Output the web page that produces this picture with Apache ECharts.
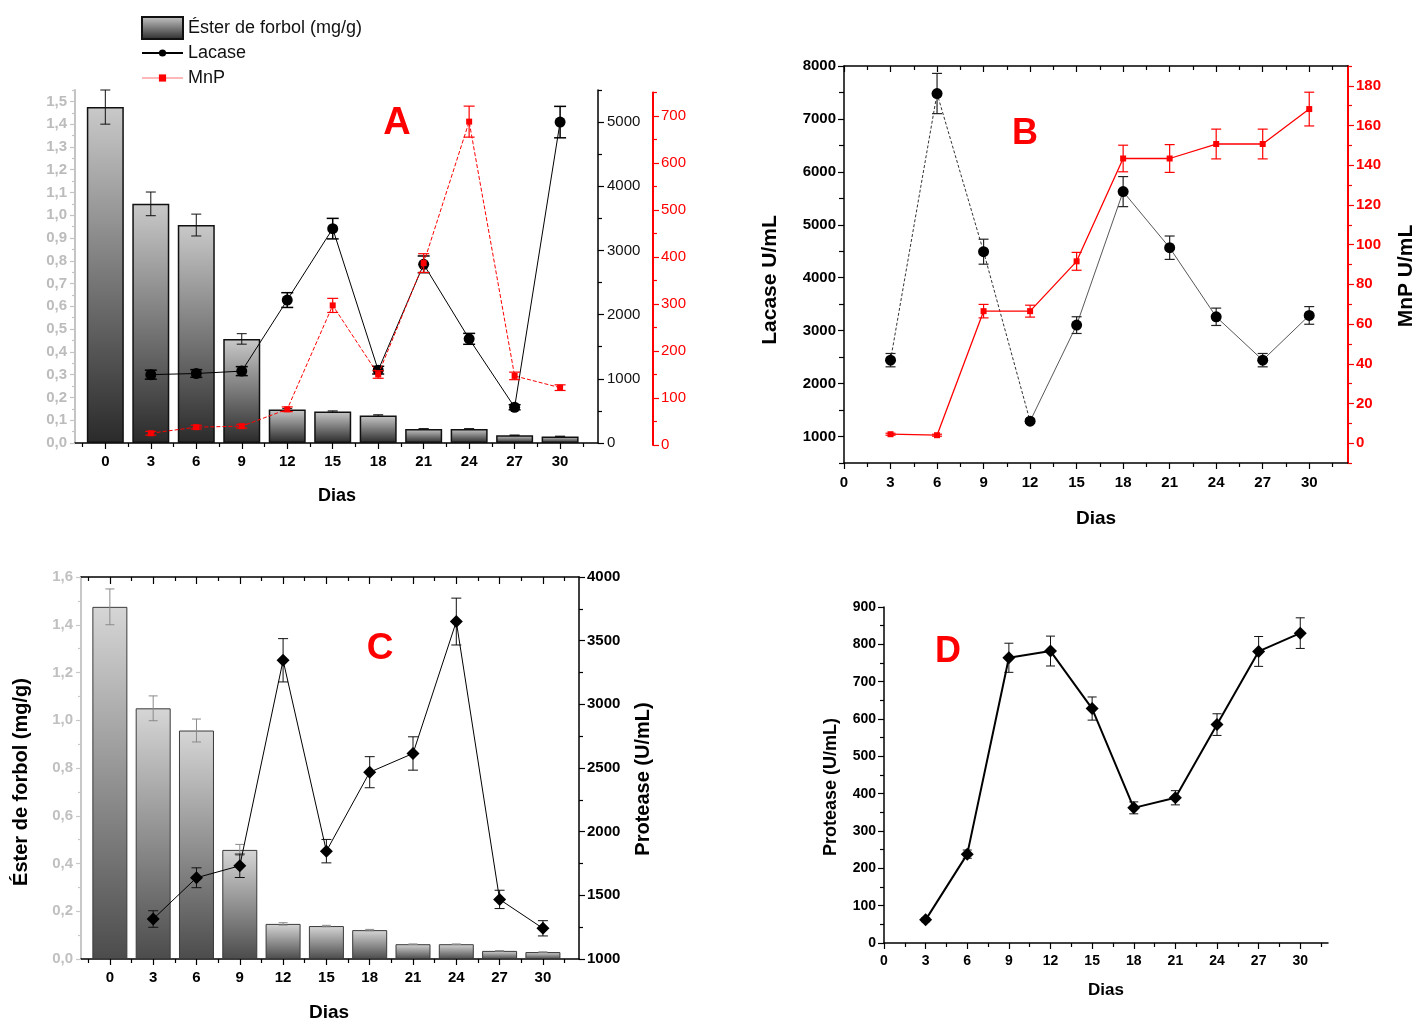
<!DOCTYPE html>
<html><head><meta charset="utf-8">
<script src="https://cdn.jsdelivr.net/npm/echarts@6/dist/echarts.min.js"></script>
<style>html,body{margin:0;padding:0;background:#fff}#c{width:1416px;height:1021px}</style>
</head><body><div id="c"></div>
<script>
// ---------------- data ----------------
const days = [0, 3, 6, 9, 12, 15, 18, 21, 24, 27, 30];
const enzDays = [3, 6, 9, 12, 15, 18, 21, 24, 27, 30];
const esterVal = [1.475, 1.05, 0.957, 0.457, 0.147, 0.138, 0.121, 0.062, 0.062, 0.034, 0.029];
const esterErr = [0.075, 0.052, 0.048, 0.023, 0.005, 0.003, 0.003, 0.001, 0.001, 0.001, 0.001];
const lacaseA = [1065, 1083, 1120, 2227, 3340, 1135, 2784, 1623, 557, 5000];
const lacaseAErr = [70, 60, 70, 115, 160, 60, 130, 85, 40, 245];
const mnpA = [25, 38, 40, 76, 297, 150, 387, 688, 147, 122];
const mnpAErr = [4, 4, 4, 5, 15, 8, 20, 33, 8, 6];
const lacaseB = [2443, 7480, 4492, 1289, 3105, 5627, 4567, 3262, 2443, 3288];
const lacaseBErr = [126, 380, 236, 40, 158, 284, 221, 164, 126, 167];
const mnpB = [4.5, 4, 66.5, 66.5, 91.6, 143.4, 143.4, 150.7, 150.7, 168.3];
const mnpBErr = [0.5, 0.5, 3.4, 3, 4.5, 6.7, 7, 7.5, 7.5, 8.5];
const proteaseC = [1314, 1638, 1732, 3346, 1847, 2467, 2614, 3650, 1468, 1241];
const proteaseCErr = [65, 78, 92, 170, 92, 122, 131, 184, 72, 60];
const proteaseD = [62, 238, 764, 782, 628, 362, 389, 585, 781, 830];
const proteaseDErr = [5, 11, 39, 40, 31, 16, 19, 29, 40, 41];

// ---------------- tick labels ----------------
const dayTicks = [0, 3, 6, 9, 12, 15, 18, 21, 24, 27, 30];
const esterTicksA = [0, 0.1, 0.2, 0.3, 0.4, 0.5, 0.6, 0.7, 0.8, 0.9, 1.0, 1.1, 1.2, 1.3, 1.4, 1.5];
const lacaseTicksA = [0, 1000, 2000, 3000, 4000, 5000];
const mnpTicksA = [0, 100, 200, 300, 400, 500, 600, 700];
const lacaseTicksB = [1000, 2000, 3000, 4000, 5000, 6000, 7000, 8000];
const mnpTicksB = [0, 20, 40, 60, 80, 100, 120, 140, 160, 180];
const esterTicksC = [0, 0.2, 0.4, 0.6, 0.8, 1.0, 1.2, 1.4, 1.6];
const proteaseTicksC = [1000, 1500, 2000, 2500, 3000, 3500, 4000];
const proteaseTicksD = [0, 100, 200, 300, 400, 500, 600, 700, 800, 900];

// ---------------- helpers ----------------
const FONT = '"Liberation Sans", Arial, sans-serif';
const RED = '#ff0000';
const comma = v => v.toFixed(1).replace('.', ',');
const plain = v => String(Math.round(v));

function minorsOf(t, lo, hi) {
  const step = t[1] - t[0];
  const cand = [t[0] - step / 2];
  for (let i = 0; i < t.length - 1; i++) cand.push((t[i] + t[i + 1]) / 2);
  cand.push(t[t.length - 1] + step / 2);
  return cand.filter(v => v >= lo - 1e-9 && v <= hi + 1e-9).map(v => +v.toFixed(6));
}

const xAxes = [], yAxes = [];
function addAxis(list, base, labels, o) {
  const idx = list.length;
  const tickColor = o.tickColor || o.lineColor;
  list.push(Object.assign({
    type: 'value', splitLine: { show: false },
    axisLine: { show: o.line !== false, onZero: false, lineStyle: { color: o.lineColor, width: o.lineWidth } },
    axisTick: { show: true, customValues: labels, length: o.majLen, inside: !!o.inside,
      lineStyle: { color: tickColor, width: o.tickWidth || 1.2 } },
    axisLabel: o.label ? Object.assign({ customValues: labels, fontFamily: FONT, formatter: plain }, o.label) : { show: false }
  }, base));
  const minors = minorsOf(labels, base.min, base.max);
  list.push(Object.assign({
    type: 'value', splitLine: { show: false },
    axisLine: { show: false, onZero: false },
    axisTick: { show: true, customValues: minors, length: o.minLen, inside: !!o.inside,
      lineStyle: { color: tickColor, width: o.tickWidth || 1.2 } },
    axisLabel: { show: false }
  }, base));
  return idx;
}

function errSeries(xi, yi, xs, vals, errs, color, cap, width, z) {
  return {
    type: 'custom', xAxisIndex: xi, yAxisIndex: yi, z: z, silent: true, clip: false,
    data: xs.map((x, i) => [x, vals[i] - errs[i], vals[i] + errs[i]]),
    encode: { x: 0, y: [1, 2] },
    renderItem(params, api) {
      const lo = api.coord([api.value(0), api.value(1)]);
      const hi = api.coord([api.value(0), api.value(2)]);
      const h = cap / 2;
      const st = { stroke: color, lineWidth: width };
      return { type: 'group', children: [
        { type: 'line', shape: { x1: lo[0], y1: lo[1], x2: hi[0], y2: hi[1] }, style: st },
        { type: 'line', shape: { x1: lo[0] - h, y1: lo[1], x2: lo[0] + h, y2: lo[1] }, style: st },
        { type: 'line', shape: { x1: hi[0] - h, y1: hi[1], x2: hi[0] + h, y2: hi[1] }, style: st }
      ] };
    }
  };
}
const pts = (xs, vs) => xs.map((x, i) => [x, vs[i]]);

// ---------------- grids ----------------
const grids = [
  { left: 75, top: 90, width: 523, height: 353 },      // 0 A
  { left: 75, top: 92.5, width: 523, height: 352.5 },  // 1 A (MnP)
  { left: 844, top: 66, width: 504, height: 397 },     // 2 B
  { left: 81, top: 577, width: 498, height: 382 },     // 3 C
  { left: 884, top: 607, width: 444, height: 336 }     // 4 D
];

const boldLbl = (size, color, margin) => ({ fontSize: size, fontWeight: 'bold', color: color, margin: margin });

// Panel A axes
const xA = addAxis(xAxes, { gridIndex: 0, min: -2, max: 32.5, position: 'bottom' }, dayTicks,
  { majLen: 6, minLen: 4, lineColor: '#000', lineWidth: 1.5, label: boldLbl(15, '#000', 11) });
const yAest = addAxis(yAxes, { gridIndex: 0, min: 0, max: 1.55, position: 'left' }, esterTicksA,
  { majLen: 5, minLen: 3, lineColor: '#c4c4c4', lineWidth: 2, label: Object.assign(boldLbl(15, '#bcbcbc', 8), { formatter: comma }) });
const yAlac = addAxis(yAxes, { gridIndex: 0, min: 0, max: 5500, position: 'right' }, lacaseTicksA,
  { majLen: 6, minLen: 4, lineColor: '#000', lineWidth: 1.5, label: { fontSize: 15, color: '#111', margin: 9 } });
const xAm = xAxes.length;
xAxes.push({ type: 'value', gridIndex: 1, min: -2, max: 32.5, show: false });
const yAmnp = addAxis(yAxes, { gridIndex: 1, min: 0, max: 750, position: 'right', offset: 55 }, mnpTicksA,
  { majLen: 6, minLen: 4, lineColor: RED, lineWidth: 2, label: { fontSize: 15, color: RED, margin: 8 } });

// Panel B axes
const xB = addAxis(xAxes, { gridIndex: 2, min: 0, max: 32.5, position: 'bottom' }, dayTicks,
  { majLen: 6, minLen: 4, lineColor: '#000', lineWidth: 1.5, label: boldLbl(15, '#000', 12) });
addAxis(xAxes, { gridIndex: 2, min: 0, max: 32.5, position: 'top' }, dayTicks,
  { majLen: 6, minLen: 4, inside: true, lineColor: '#000', lineWidth: 1.5 });
const yBl = addAxis(yAxes, { gridIndex: 2, min: 500, max: 8000, position: 'left' }, lacaseTicksB,
  { majLen: 6, minLen: 5, lineColor: '#000', lineWidth: 1.5, label: boldLbl(15, '#000', 8) });
const yBr = addAxis(yAxes, { gridIndex: 2, min: -10, max: 190, position: 'right' }, mnpTicksB,
  { majLen: 6, minLen: 4, lineColor: RED, lineWidth: 2, label: boldLbl(15, RED, 8) });

// Panel C axes
const xC = addAxis(xAxes, { gridIndex: 3, min: -2, max: 32.5, position: 'bottom' }, dayTicks,
  { majLen: 6, minLen: 4, lineColor: '#000', lineWidth: 1.5, label: boldLbl(15, '#000', 11) });
addAxis(xAxes, { gridIndex: 3, min: -2, max: 32.5, position: 'top' }, dayTicks,
  { majLen: 7, minLen: 4, inside: true, lineColor: '#000', lineWidth: 1.5 });
const yCl = addAxis(yAxes, { gridIndex: 3, min: 0, max: 1.6, position: 'left' }, esterTicksC,
  { majLen: 5, minLen: 3, lineColor: '#c8c8c8', lineWidth: 2, label: Object.assign(boldLbl(15, '#c0c0c0', 8), { formatter: comma }) });
const yCr = addAxis(yAxes, { gridIndex: 3, min: 1000, max: 4000, position: 'right' }, proteaseTicksC,
  { majLen: 6, minLen: 4, lineColor: '#000', lineWidth: 1.5, label: boldLbl(15, '#000', 8) });

// Panel D axes
const xD = addAxis(xAxes, { gridIndex: 4, min: 0, max: 32, position: 'bottom' }, dayTicks,
  { majLen: 6, minLen: 4, lineColor: '#000', lineWidth: 1.5, label: boldLbl(14, '#000', 11) });
const yD = addAxis(yAxes, { gridIndex: 4, min: 0, max: 900, position: 'left' }, proteaseTicksD,
  { majLen: 6, minLen: 4, lineColor: '#000', lineWidth: 1.5, label: boldLbl(14, '#000', 8) });

// ---------------- series ----------------
const gradA = { type: 'linear', x: 0, y: 0, x2: 0, y2: 1, colorStops: [{ offset: 0, color: '#c9c9c9' }, { offset: 1, color: '#2a2a2a' }] };
const gradC = { type: 'linear', x: 0, y: 0, x2: 0, y2: 1, colorStops: [{ offset: 0, color: '#d6d6d6' }, { offset: 1, color: '#4c4c4c' }] };

const series = [
  // A
  { name: 'Éster de forbol (mg/g)', type: 'bar', xAxisIndex: xA, yAxisIndex: yAest, barWidth: 37, z: 2,
    data: pts(days, esterVal), itemStyle: { color: gradA, borderColor: '#111', borderWidth: 1.5 } },
  errSeries(xA, yAest, days, esterVal, esterErr, '#111', 10, 1, 3),
  { name: 'Lacase', type: 'line', xAxisIndex: xA, yAxisIndex: yAlac, z: 4, data: pts(enzDays, lacaseA),
    symbol: 'circle', symbolSize: 11, itemStyle: { color: '#000' }, lineStyle: { color: '#000', width: 1 } },
  errSeries(xA, yAlac, enzDays, lacaseA, lacaseAErr, '#000', 12, 1.5, 4),
  { name: 'MnP', type: 'line', xAxisIndex: xAm, yAxisIndex: yAmnp, z: 5, data: pts(enzDays, mnpA),
    symbol: 'rect', symbolSize: 6, itemStyle: { color: RED }, lineStyle: { color: RED, width: 1, type: [4, 2] } },
  errSeries(xAm, yAmnp, enzDays, mnpA, mnpAErr, RED, 11, 1.2, 5),
  // B
  { name: 'Lacase B1', type: 'line', xAxisIndex: xB, yAxisIndex: yBl, z: 3, symbol: 'none',
    data: pts(enzDays.slice(0, 4), lacaseB.slice(0, 4)), lineStyle: { color: '#333', width: 1, type: [3, 2] } },
  { name: 'Lacase B2', type: 'line', xAxisIndex: xB, yAxisIndex: yBl, z: 3, symbol: 'none',
    data: pts(enzDays.slice(3), lacaseB.slice(3)), lineStyle: { color: '#444', width: 0.9 } },
  { name: 'Lacase B', type: 'scatter', xAxisIndex: xB, yAxisIndex: yBl, z: 4, symbol: 'circle', symbolSize: 11,
    data: pts(enzDays, lacaseB), itemStyle: { color: '#000', opacity: 1 } },
  errSeries(xB, yBl, enzDays, lacaseB, lacaseBErr, '#222', 10, 1.2, 4),
  { name: 'MnP B', type: 'line', xAxisIndex: xB, yAxisIndex: yBr, z: 5, data: pts(enzDays, mnpB),
    symbol: 'rect', symbolSize: 6, itemStyle: { color: RED }, lineStyle: { color: RED, width: 1.3 } },
  errSeries(xB, yBr, enzDays, mnpB, mnpBErr, RED, 10, 1.2, 5),
  // C
  { name: 'Éster C', type: 'bar', xAxisIndex: xC, yAxisIndex: yCl, barWidth: 35, z: 2,
    data: pts(days, esterVal), itemStyle: { color: gradC, borderColor: '#3a3a3a', borderWidth: 1 } },
  errSeries(xC, yCl, days, esterVal, esterErr, '#8a8a8a', 9, 1, 3),
  { name: 'Protease C', type: 'line', xAxisIndex: xC, yAxisIndex: yCr, z: 4, data: pts(enzDays, proteaseC),
    symbol: 'diamond', symbolSize: 13, itemStyle: { color: '#000' }, lineStyle: { color: '#000', width: 1 } },
  errSeries(xC, yCr, enzDays, proteaseC, proteaseCErr, '#111', 10, 1, 4),
  // D
  { name: 'Protease D', type: 'line', xAxisIndex: xD, yAxisIndex: yD, z: 4, data: pts(enzDays, proteaseD),
    symbol: 'diamond', symbolSize: 13, itemStyle: { color: '#000' }, lineStyle: { color: '#000', width: 2 } },
  errSeries(xD, yD, enzDays, proteaseD, proteaseDErr, '#111', 9, 1, 4)
];

// ---------------- texts ----------------
function txt(text, x, y, size, opts) {
  opts = opts || {};
  return { type: 'text', x: x, y: y, rotation: opts.rot || 0, z: 10,
    style: { text: text, font: (opts.weight || 'bold') + ' ' + size + 'px ' + FONT, fill: opts.color || '#000',
      align: 'center', verticalAlign: 'middle', textAlign: 'center', textVerticalAlign: 'middle' } };
}
const R90 = Math.PI / 2;
const graphic = [
  txt('A', 397, 124, 38, { color: RED }),
  txt('B', 1025, 134, 36, { color: RED }),
  txt('C', 380, 649, 37, { color: RED }),
  txt('D', 948, 652, 36, { color: RED }),
  txt('Dias', 337, 496, 18),
  txt('Dias', 1096, 519, 19),
  txt('Dias', 329, 1013, 19),
  txt('Dias', 1106, 990, 17),
  txt('Lacase U/mL', 770, 280, 21, { rot: R90 }),
  txt('MnP U/mL', 1406, 276, 21, { rot: R90 }),
  txt('Éster de forbol (mg/g)', 21, 782, 20, { rot: R90 }),
  txt('Protease (U/mL)', 643, 779, 20, { rot: R90 }),
  txt('Protease (U/mL)', 831, 787, 18, { rot: R90 })
];

const chart = echarts.init(document.getElementById('c'), null, { renderer: 'canvas' });
chart.setOption({
  animation: false,
  backgroundColor: '#fff',
  textStyle: { fontFamily: FONT },
  grid: grids,
  xAxis: xAxes,
  yAxis: yAxes,
  legend: [
    { data: [{ name: 'Éster de forbol (mg/g)', icon: 'rect' }], left: 141, top: 16, padding: 0, itemWidth: 41, itemHeight: 22,
      itemTextGap: 7, selectedMode: false, textStyle: { fontFamily: FONT, fontSize: 18, color: '#111' } },
    { data: [{ name: 'Lacase' }, { name: 'MnP', lineStyle: { type: 'solid', color: '#ff7070', width: 1 } }],
      orient: 'vertical', left: 141, top: 43, padding: 0, itemWidth: 41, itemHeight: 9, itemGap: 5, itemTextGap: 7,
      selectedMode: false, textStyle: { fontFamily: FONT, fontSize: 18, color: '#111', lineHeight: 20 } }
  ],
  graphic: graphic,
  series: series
});
</script></body></html>
